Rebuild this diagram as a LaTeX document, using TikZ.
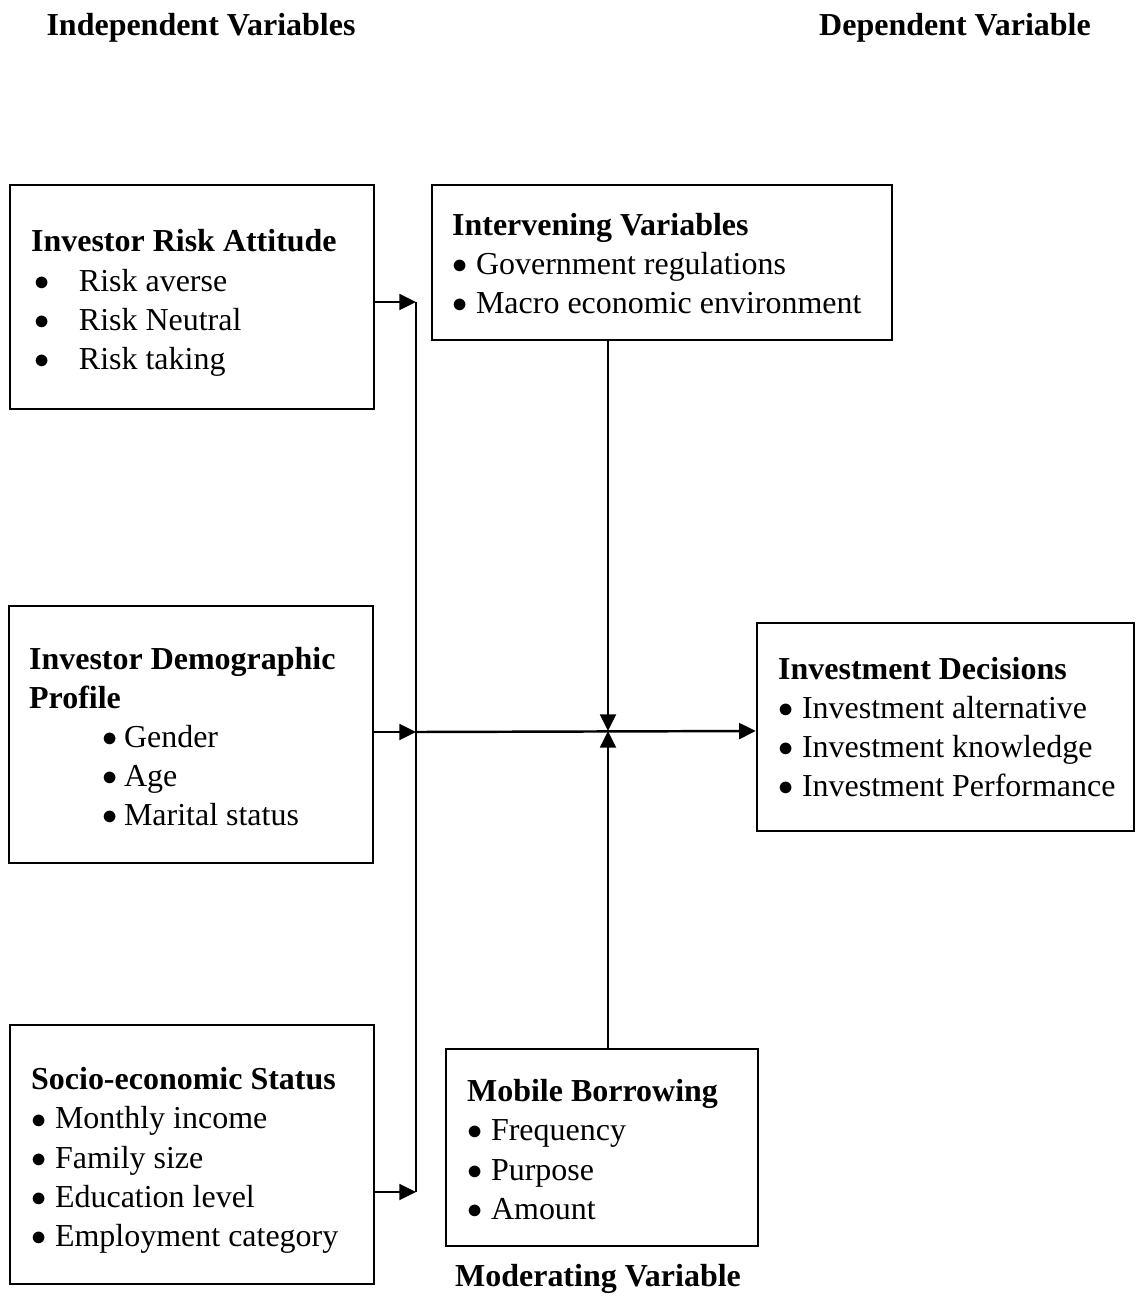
\documentclass[tikz,border=0pt]{standalone}
\usepackage{fontspec}
\setmainfont{Liberation Serif}
\usetikzlibrary{arrows.meta}
\newcommand{\bul}{\raisebox{0.5pt}{$\bullet$}}
\newcommand{\bi}[1]{\mbox{\makebox[13.6pt][l]{\bul}#1}}
\newcommand{\bt}[1]{\mbox{\makebox[27.2pt][l]{\hspace{2pt}\bul}#1}}
\newcommand{\bd}[1]{\mbox{\hspace{41.5pt}\makebox[12.5pt][l]{\bul}#1}}
\begin{document}
\begin{tikzpicture}[x=0.02cm,y=-0.02cm,
  box/.style={draw,line width=1.4pt,rectangle,inner sep=0pt},
  txt/.style={align=left,inner xsep=0pt,inner ysep=0pt,
    font=\fontsize{18.2pt}{22.3pt}\selectfont},
  lbl/.style={font=\fontsize{18.2pt}{22pt}\selectfont\bfseries},
  arr/.style={line width=1.4pt,-{Triangle[length=9.5pt,width=9pt]}},
  ln/.style={line width=1.4pt}]
\useasboundingbox (0,0) rectangle (1136,1296);
\node[lbl] (iv) at (201,28) {Independent Variables};
\node[lbl] (dv) at (955,28) {Dependent Variable};
\node[lbl] (mv) at (598,1279) {Moderating Variable};

\node[box,minimum width=7.28cm,minimum height=4.48cm] (b1) at (192,297) {};
\node[box,minimum width=9.2cm,minimum height=3.1cm] (b2) at (662,262.5) {};
\node[box,minimum width=7.28cm,minimum height=5.14cm] (b3) at (191,734.5) {};
\node[box,minimum width=7.54cm,minimum height=4.16cm] (b4) at (945.5,727) {};
\node[box,minimum width=7.28cm,minimum height=5.18cm] (b5) at (192,1154.5) {};
\node[box,minimum width=6.24cm,minimum height=3.94cm] (b6) at (602,1147.5) {};

\node[txt,anchor=west] (x1) at ([xshift=0.44cm,yshift=-0.12cm]b1.west)
  {\textbf{Investor Risk Attitude}\\\bt{Risk averse}\\\bt{Risk Neutral}\\\bt{Risk taking}};
\node[txt,anchor=west] (x2) at ([xshift=0.42cm,yshift=-0.02cm]b2.west)
  {\textbf{Intervening Variables}\\\bi{Government regulations}\\\bi{Macro economic environment}};
\node[txt,anchor=west] (x3) at ([xshift=0.42cm,yshift=-0.04cm]b3.west)
  {\textbf{Investor Demographic}\\\textbf{Profile}\\\bd{Gender}\\\bd{Age}\\\bd{Marital status}};
\node[txt,anchor=west] (x4) at ([xshift=0.44cm]b4.west)
  {\textbf{Investment Decisions}\\\bi{Investment alternative}\\\bi{Investment knowledge}\\\bi{Investment Performance}};
\node[txt,anchor=west] (x5) at ([xshift=0.44cm,yshift=-0.12cm]b5.west)
  {\textbf{Socio-economic Status}\\\bi{Monthly income}\\\bi{Family size}\\\bi{Education level}\\\bi{Employment category}};
\node[txt,anchor=west] (x6) at ([xshift=0.44cm,yshift=-0.04cm]b6.west)
  {\textbf{Mobile Borrowing}\\\bi{Frequency}\\\bi{Purpose}\\\bi{Amount}};

\coordinate (t1) at (416,302);
\coordinate (t2) at (416,732);
\coordinate (t3) at (416,1192);
\coordinate (j) at (608,731);

\draw[ln] (t1) -- (t3);
\draw[arr] (b1.east |- t1) -- (t1);
\draw[arr] (b3.east |- t2) -- (t2);
\draw[arr] (b5.east |- t3) -- (t3);
\draw[arr] (t2) -- (b4.west |- j);
\draw[arr] (b2.south -| j) -- (j);
\draw[arr] (b6.north -| j) -- (j);
\end{tikzpicture}
\end{document}
